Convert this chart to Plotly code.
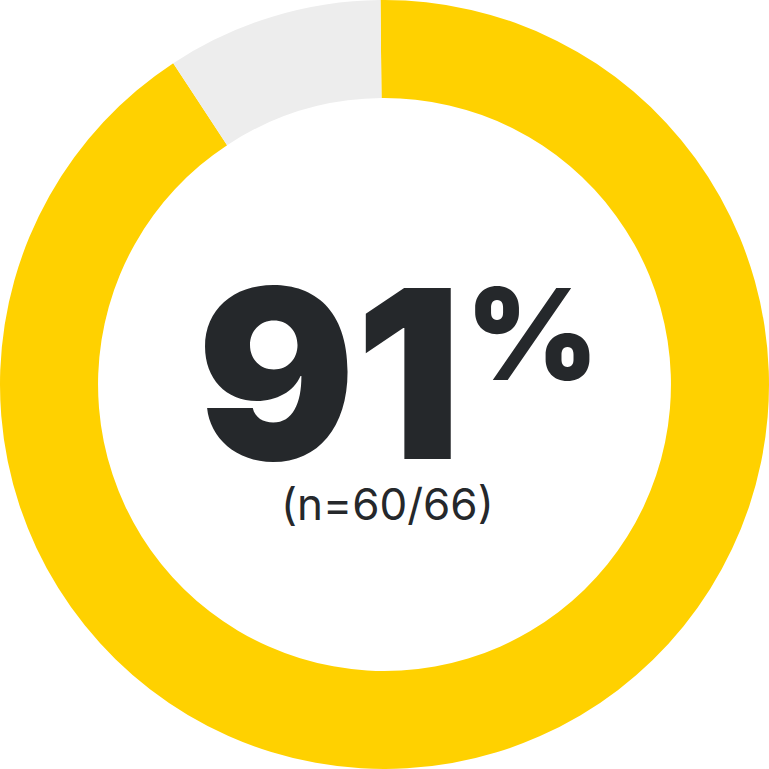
import plotly.graph_objects as go

labels = ["Yes", "No"]
values = [60, 6]
colors = ["#FFD100", "#EDEDED"]

big_value = "91"
big_unit = "%"
sub_text = "(n=60/66)"

W = H = 769

fig = go.Figure()
fig.add_trace(go.Pie(
    labels=labels,
    values=values,
    hole=0.745,
    sort=False,
    direction="clockwise",
    rotation=-0.6,
    marker=dict(colors=colors, line=dict(width=0)),
    textinfo="none",
    hoverinfo="label+value",
    showlegend=False,
))

# big number in the middle
fig.add_annotation(
    x=329 / W, y=1 - 374 / H, xref="paper", yref="paper",
    text=big_value, showarrow=False,
    xanchor="center", yanchor="middle", height=185,
    font=dict(family="Inter", size=235, color="#25282B", weight=900),
)
fig.add_annotation(
    x=532 / W, y=1 - 334 / H, xref="paper", yref="paper",
    text=big_unit, showarrow=False,
    xanchor="center", yanchor="middle", height=100,
    font=dict(family="Inter", size=127, color="#25282B", weight=900),
)
fig.add_annotation(
    x=387 / W, y=1 - 504 / H, xref="paper", yref="paper",
    text=sub_text, showarrow=False,
    xanchor="center", yanchor="middle",
    font=dict(family="Inter", size=44, color="#25282B"),
)

fig.update_layout(
    autosize=True,
    margin=dict(l=0, r=0, t=0, b=0),
    paper_bgcolor="white",
    plot_bgcolor="white",
)

# drop the default body margin so the chart fills the window
fix_margin = ("document.body.style.margin='0';"
              "document.body.style.overflow='hidden';"
              "Plotly.Plots.resize(document.getElementById('{plot_id}'));")

fig.write_html("out.html", config={"responsive": True, "displayModeBar": False},
               post_script=fix_margin)
